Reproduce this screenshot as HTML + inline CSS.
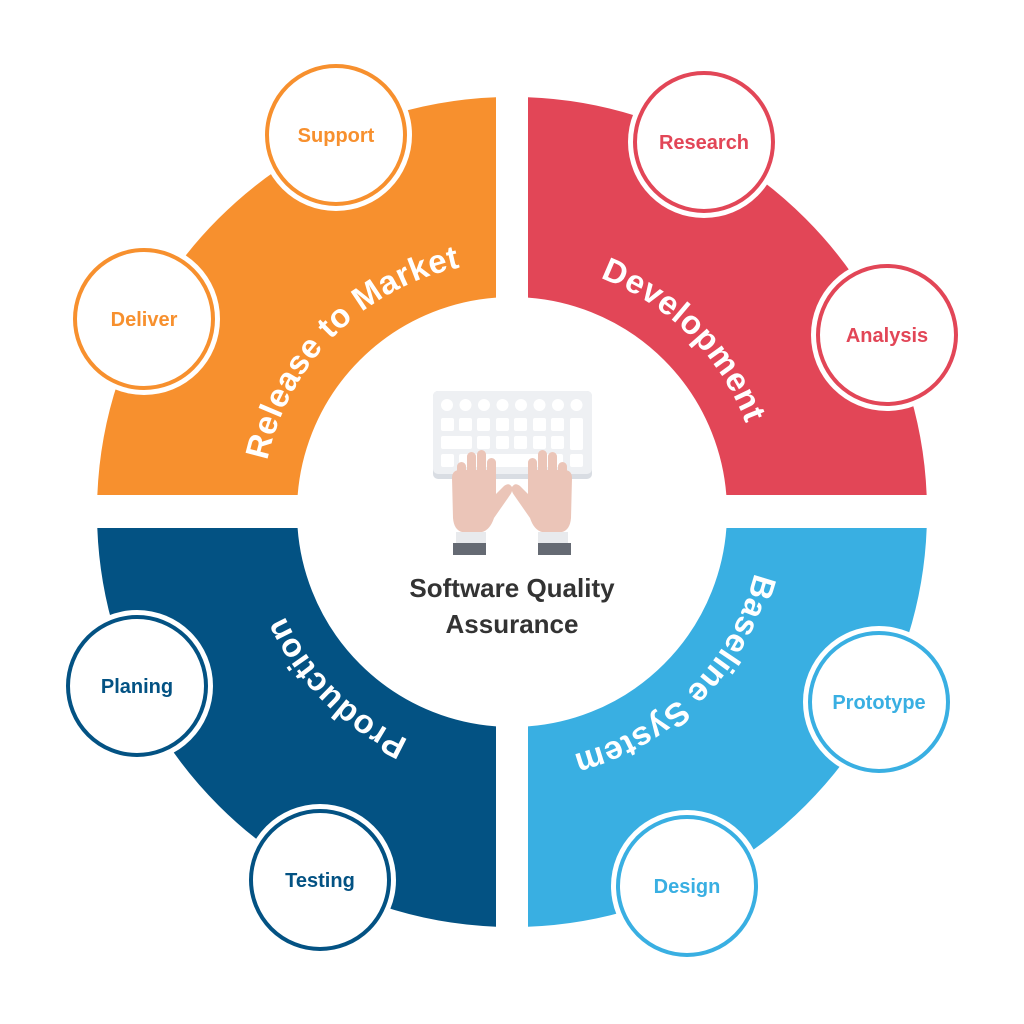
<!DOCTYPE html>
<html><head><meta charset="utf-8"><style>
html,body{margin:0;padding:0;background:#fff;}
svg{display:block;}
.seg{font-family:"Liberation Sans",sans-serif;font-weight:bold;font-size:33px;fill:#fff;letter-spacing:0.5px;}
.lbl{font-family:"Liberation Sans",sans-serif;font-weight:bold;font-size:20px;text-anchor:middle;}
</style></head><body>
<svg width="1024" height="1024" viewBox="0 0 1024 1024" xmlns="http://www.w3.org/2000/svg">
<defs>
<clipPath id="tl"><rect x="0" y="0" width="496" height="495"/></clipPath>
<clipPath id="tr"><rect x="528" y="0" width="496" height="495"/></clipPath>
<clipPath id="bl"><rect x="0" y="528" width="496" height="496"/></clipPath>
<clipPath id="br"><rect x="528" y="528" width="496" height="496"/></clipPath>
<path id="p1" d="M335.2,688.8 A250,250 0 1 1 688.8,335.2"/>
<path id="p2" d="M335.2,335.2 A250,250 0 1 1 688.8,688.8"/>
<path id="p3" d="M688.8,335.2 A250,250 0 1 1 335.2,688.8"/>
<path id="p4" d="M688.8,688.8 A250,250 0 1 1 335.2,335.2"/>
<g id="hand" fill="#EBC5B8">
<rect x="457" y="462" width="9" height="40" rx="4.5"/>
<rect x="467" y="452" width="9" height="50" rx="4.5"/>
<rect x="477" y="450" width="9" height="52" rx="4.5"/>
<rect x="487" y="458" width="9" height="44" rx="4.5"/>
<path d="M452,478 Q452,470 460,470 L494,470 L494,496 L504,486 Q509,482 512,487 Q513,491 510,495 L494,518 Q490,530 482,532 L462,532 Q454,530 453,518 Z"/>
</g>
</defs>
<g fill="none" stroke-width="200">
<circle cx="512" cy="512" r="315" stroke="#F7902E" clip-path="url(#tl)"/>
<circle cx="512" cy="512" r="315" stroke="#E24657" clip-path="url(#tr)"/>
<circle cx="512" cy="512" r="315" stroke="#035283" clip-path="url(#bl)"/>
<circle cx="512" cy="512" r="315" stroke="#39AFE2" clip-path="url(#br)"/>
</g>
<text class="seg"><textPath href="#p1" startOffset="50%" text-anchor="middle">Release to Market</textPath></text>
<text class="seg"><textPath href="#p2" startOffset="50%" text-anchor="middle">Development</textPath></text>
<text class="seg"><textPath href="#p3" startOffset="50%" text-anchor="middle">Baseline System</textPath></text>
<text class="seg"><textPath href="#p4" startOffset="50%" text-anchor="middle">Production</textPath></text>

<g>
<circle cx="336" cy="135" r="76" fill="#fff"/><circle cx="336" cy="135" r="69" fill="#fff" stroke="#F7902E" stroke-width="4"/>
<text class="lbl" x="336" y="142" fill="#F7902E">Support</text>
<circle cx="144" cy="319" r="76" fill="#fff"/><circle cx="144" cy="319" r="69" fill="#fff" stroke="#F7902E" stroke-width="4"/>
<text class="lbl" x="144" y="326" fill="#F7902E">Deliver</text>
<circle cx="704" cy="142" r="76" fill="#fff"/><circle cx="704" cy="142" r="69" fill="#fff" stroke="#E24657" stroke-width="4"/>
<text class="lbl" x="704" y="149" fill="#E24657">Research</text>
<circle cx="887" cy="335" r="76" fill="#fff"/><circle cx="887" cy="335" r="69" fill="#fff" stroke="#E24657" stroke-width="4"/>
<text class="lbl" x="887" y="342" fill="#E24657">Analysis</text>
<circle cx="879" cy="702" r="76" fill="#fff"/><circle cx="879" cy="702" r="69" fill="#fff" stroke="#39AFE2" stroke-width="4"/>
<text class="lbl" x="879" y="709" fill="#39AFE2">Prototype</text>
<circle cx="687" cy="886" r="76" fill="#fff"/><circle cx="687" cy="886" r="69" fill="#fff" stroke="#39AFE2" stroke-width="4"/>
<text class="lbl" x="687" y="893" fill="#39AFE2">Design</text>
<circle cx="137" cy="686" r="76" fill="#fff"/><circle cx="137" cy="686" r="69" fill="#fff" stroke="#035283" stroke-width="4"/>
<text class="lbl" x="137" y="693" fill="#035283">Planing</text>
<circle cx="320" cy="880" r="76" fill="#fff"/><circle cx="320" cy="880" r="69" fill="#fff" stroke="#035283" stroke-width="4"/>
<text class="lbl" x="320" y="887" fill="#035283">Testing</text>
</g>

<!-- keyboard -->
<rect x="433" y="391" width="159" height="88" rx="5" fill="#D9DDE3"/>
<rect x="433" y="391" width="159" height="83" rx="5" fill="#EEF0F3"/>
<g fill="#fff">
<circle cx="447" cy="405" r="6"/><circle cx="465.5" cy="405" r="6"/><circle cx="484" cy="405" r="6"/><circle cx="502.5" cy="405" r="6"/><circle cx="521" cy="405" r="6"/><circle cx="539.5" cy="405" r="6"/><circle cx="558" cy="405" r="6"/><circle cx="576.5" cy="405" r="6"/>
<rect x="441" y="418" width="13" height="13" rx="2"/><rect x="459" y="418" width="13" height="13" rx="2"/><rect x="477" y="418" width="13" height="13" rx="2"/><rect x="496" y="418" width="13" height="13" rx="2"/><rect x="514" y="418" width="13" height="13" rx="2"/><rect x="533" y="418" width="13" height="13" rx="2"/><rect x="551" y="418" width="13" height="13" rx="2"/>
<rect x="570" y="418" width="13" height="32" rx="2"/>
<rect x="441" y="436" width="31" height="13" rx="2"/><rect x="477" y="436" width="13" height="13" rx="2"/><rect x="496" y="436" width="13" height="13" rx="2"/><rect x="514" y="436" width="13" height="13" rx="2"/><rect x="533" y="436" width="13" height="13" rx="2"/><rect x="551" y="436" width="13" height="13" rx="2"/>
<rect x="441" y="454" width="13" height="13" rx="2"/><rect x="459" y="454" width="104" height="13" rx="2"/><rect x="570" y="454" width="13" height="13" rx="2"/>
</g>
<use href="#hand"/>
<use href="#hand" transform="translate(1024,0) scale(-1,1)"/>
<rect x="456" y="532" width="30" height="11" fill="#E8EAED"/><rect x="453" y="543" width="33" height="12" fill="#656A73"/>
<rect x="538" y="532" width="30" height="11" fill="#E8EAED"/><rect x="538" y="543" width="33" height="12" fill="#656A73"/>

<text x="512" y="597" text-anchor="middle" font-family="Liberation Sans,sans-serif" font-weight="bold" font-size="26" fill="#333">Software Quality</text>
<text x="512" y="633" text-anchor="middle" font-family="Liberation Sans,sans-serif" font-weight="bold" font-size="26" fill="#333">Assurance</text>
</svg>
</body></html>
